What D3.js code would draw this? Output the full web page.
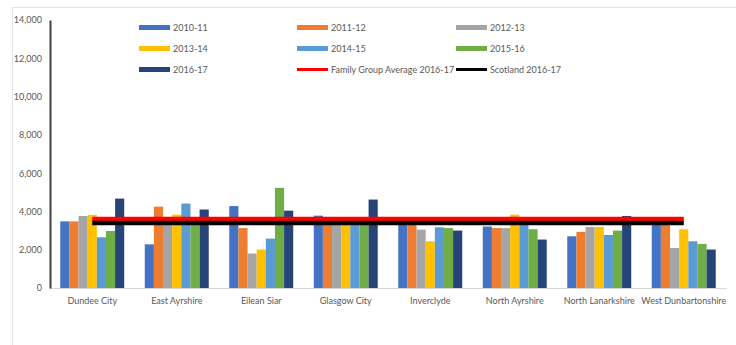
<!DOCTYPE html>
<html>
<head>
<meta charset="utf-8">
<script src="https://cdn.jsdelivr.net/npm/d3@7"></script>
<style>
  html, body { margin: 0; padding: 0; background: #fff; }
  svg { display: block; font-family: Lato, "Liberation Sans", sans-serif; }
</style>
</head>
<body>
<svg id="chart" width="736" height="345"></svg>
<script>
// Council areas in the family group
const categories = ["Dundee City", "East Ayrshire", "Eilean Siar", "Glasgow City",
  "Inverclyde", "North Ayrshire", "North Lanarkshire", "West Dunbartonshire"];

// Yearly values per council
const years = ["2010-11", "2011-12", "2012-13", "2013-14", "2014-15", "2015-16", "2016-17"];
const v2010_11 = [3480, 2280, 4280, 3780, 3400, 3210, 2700, 3300];
const v2011_12 = [3480, 4250, 3130, 3400, 3400, 3130, 2930, 3300];
const v2012_13 = [3760, 3450, 1800, 3400, 3050, 3130, 3190, 2090];
const v2013_14 = [3820, 3830, 2010, 3400, 2440, 3830, 3190, 3070];
const v2014_15 = [2650, 4410, 2580, 3300, 3170, 3350, 2770, 2440];
const v2015_16 = [2980, 3450, 5230, 3400, 3130, 3070, 3000, 2300];
const v2016_17 = [4670, 4100, 4040, 4620, 3000, 2530, 3760, 2010];
const seriesValues = [v2010_11, v2011_12, v2012_13, v2013_14, v2014_15, v2015_16, v2016_17];

// Reference lines for 2016-17
const familyGroupAverage = 3600;
const scotlandAverage = 3400;

const yTicks = [0, 2000, 4000, 6000, 8000, 10000, 12000, 14000];

const barColors = ["#4472C4", "#ED7D31", "#A5A5A5", "#FFC000", "#5B9BD5", "#70AD47", "#264478"];
const redColor = "#FF0000";
const blackColor = "#000000";

const svg = d3.select("#chart");

// chart frame edges
svg.append("line").attr("x1", 12.5).attr("x2", 736).attr("y1", 7.5).attr("y2", 7.5)
  .attr("stroke", "#e3e3e3").attr("stroke-width", 1);
svg.append("line").attr("x1", 12.5).attr("x2", 12.5).attr("y1", 7.5).attr("y2", 345)
  .attr("stroke", "#e3e3e3").attr("stroke-width", 1);

const plotLeft = 50, plotRight = 726, plotTop = 20, plotBottom = 288;

const x = d3.scaleBand().domain(categories).range([plotLeft, plotRight])
  .paddingInner(0.243).paddingOuter(0.1215);
const xs = d3.scaleBand().domain(years).range([0, x.bandwidth()]).padding(0);
const y = d3.scaleLinear().domain([0, 14000]).range([plotBottom, plotTop]);

// baseline
svg.append("line").attr("x1", plotLeft).attr("x2", plotRight + 1)
  .attr("y1", plotBottom + 0.5).attr("y2", plotBottom + 0.5)
  .attr("stroke", "#d9d9d9").attr("stroke-width", 1);

// bars
const groups = svg.append("g").selectAll("g")
  .data(categories)
  .join("g")
  .attr("transform", d => `translate(${x(d)},0)`);

groups.selectAll("rect")
  .data((c, i) => years.map((yr, k) => ({ yr, k, v: seriesValues[k][i] })))
  .join("rect")
  .attr("x", d => xs(d.yr))
  .attr("width", xs.bandwidth())
  .attr("y", d => y(d.v))
  .attr("height", d => y(0) - y(d.v))
  .attr("fill", d => barColors[d.k]);

// reference lines across the category centres
const lineGen = d3.line().x(d => x(d) + x.bandwidth() / 2);
svg.append("path")
  .attr("d", lineGen.y(() => y(familyGroupAverage))(categories))
  .attr("stroke", redColor).attr("stroke-width", 4.5).attr("fill", "none");
svg.append("path")
  .attr("d", lineGen.y(() => y(scotlandAverage))(categories))
  .attr("stroke", blackColor).attr("stroke-width", 4.5).attr("fill", "none");

// y axis
const yAxis = d3.axisLeft(y).tickValues(yTicks).tickSize(0).tickPadding(8)
  .tickFormat(d3.format(","));
const yg = svg.append("g").attr("transform", `translate(${plotLeft},0)`).call(yAxis);
yg.select(".domain").attr("stroke", "#404040").attr("stroke-width", 2);
yg.selectAll("text").attr("fill", "#595959").attr("font-size", 9)
  .attr("font-family", "Lato, 'Liberation Sans', sans-serif");

// x axis labels
const xAxis = d3.axisBottom(x).tickSize(0).tickPadding(10);
const xg = svg.append("g").attr("transform", `translate(0,${plotBottom})`).call(xAxis);
xg.select(".domain").remove();
xg.selectAll("text").attr("fill", "#595959").attr("font-size", 9)
  .attr("font-family", "Lato, 'Liberation Sans', sans-serif");

// legend
const legendItems = [
  { label: "2010-11", color: barColors[0], kind: "bar" },
  { label: "2011-12", color: barColors[1], kind: "bar" },
  { label: "2012-13", color: barColors[2], kind: "bar" },
  { label: "2013-14", color: barColors[3], kind: "bar" },
  { label: "2014-15", color: barColors[4], kind: "bar" },
  { label: "2015-16", color: barColors[5], kind: "bar" },
  { label: "2016-17", color: barColors[6], kind: "bar" },
  { label: "Family Group Average 2016-17", color: redColor, kind: "line" },
  { label: "Scotland 2016-17", color: blackColor, kind: "line" }
];
const legendCols = [139, 297, 456];
const legendRows = [27.5, 48.5, 69.5];
const lg = svg.append("g").selectAll("g")
  .data(legendItems)
  .join("g")
  .attr("transform", (d, i) => `translate(${legendCols[i % 3]},${legendRows[Math.floor(i / 3)]})`);
lg.append("rect")
  .attr("x", 0).attr("width", 31)
  .attr("y", d => d.kind === "bar" ? -2.5 : -1.5)
  .attr("height", d => d.kind === "bar" ? 5 : 3)
  .attr("fill", d => d.color);
lg.append("text")
  .attr("x", 34).attr("y", 0).attr("dy", "0.35em")
  .attr("font-size", 9).attr("fill", "#595959")
  .text(d => d.label);
</script>
</body>
</html>
